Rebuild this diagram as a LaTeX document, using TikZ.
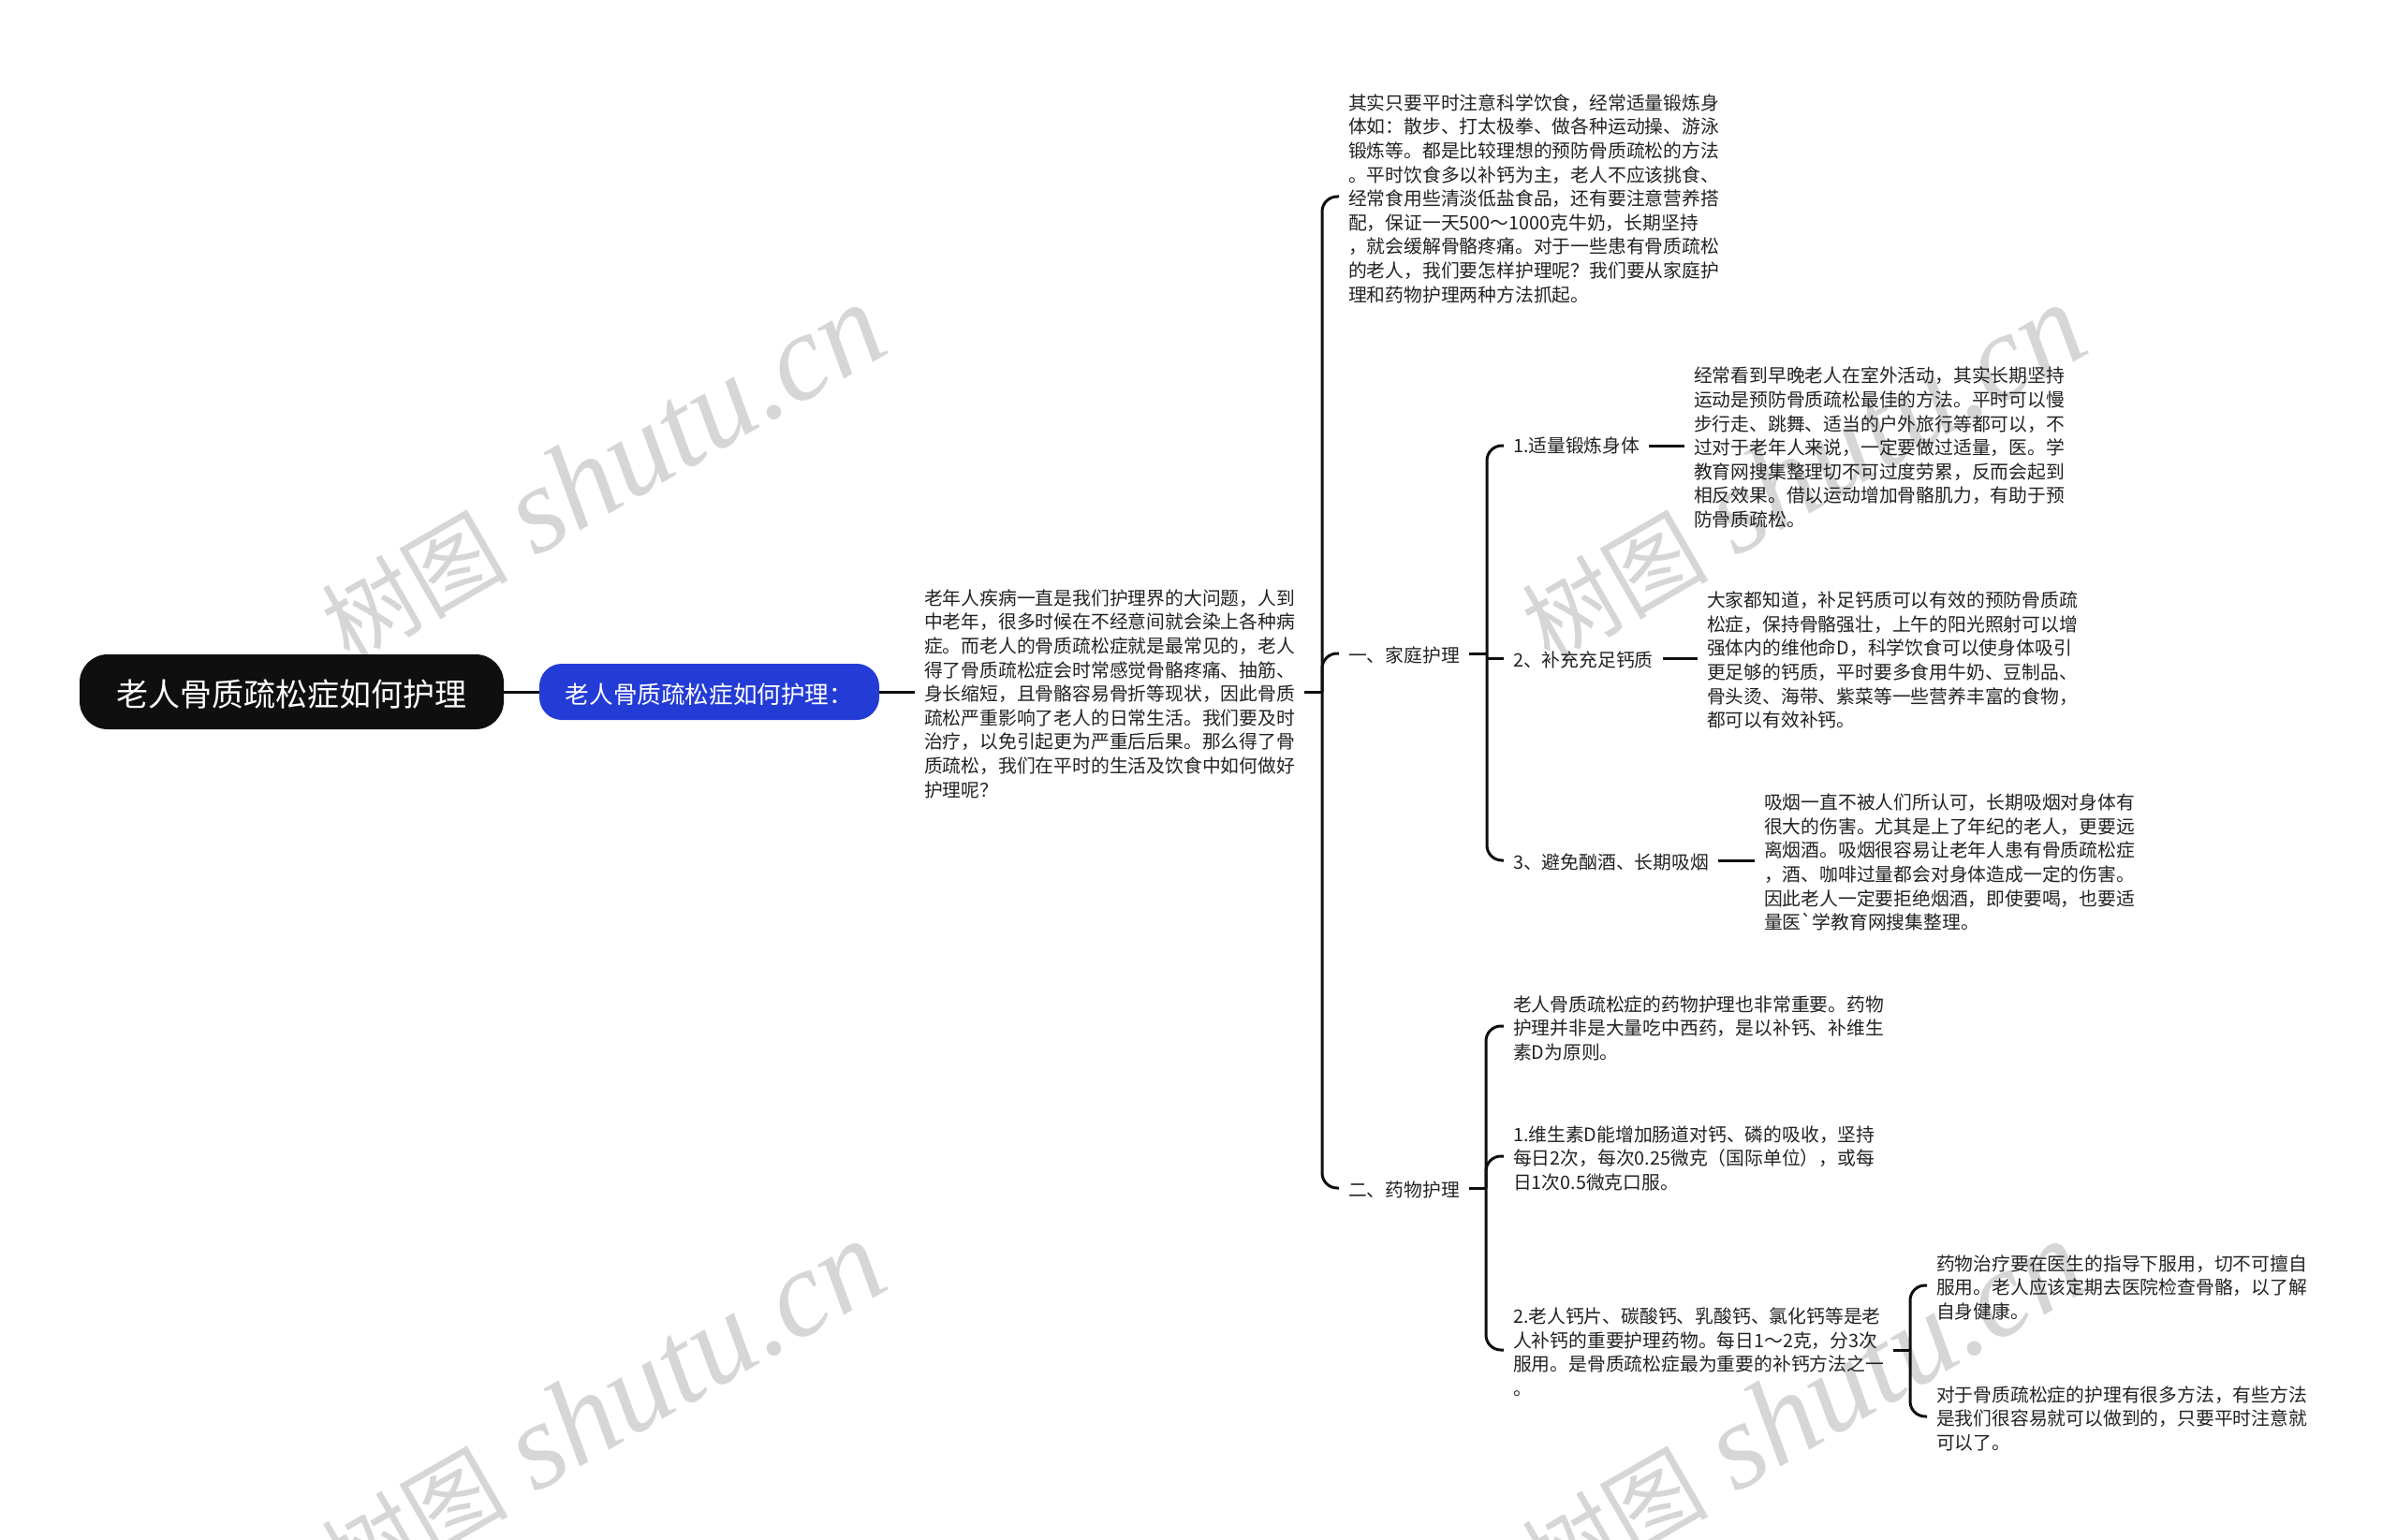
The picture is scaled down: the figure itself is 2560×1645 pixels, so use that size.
\documentclass[tikz,border=0pt]{standalone}
\usepackage{fontspec}
\setmainfont{Noto Sans CJK SC}
\newfontfamily\markfont{Liberation Serif}
\usetikzlibrary{arrows,shapes,positioning}
\usepackage{xcolor}
\definecolor{mapblack}{RGB}{15,15,15}
\definecolor{mapblue}{RGB}{36,60,214}
\definecolor{mapink}{RGB}{34,34,34}
\definecolor{mapmark}{RGB}{214,214,214}
\newcommand{\bodyfont}{\fontsize{19.8}{25.6}\selectfont}
\newcommand{\lift}{\rule{0pt}{21pt}}
\tikzstyle{link} = [line width=3pt,color=mapblack]
\tikzstyle{bracket} = [link,rounded corners=16pt]
\tikzstyle{para} = [anchor=west,align=left,inner xsep=10pt,inner ysep=0pt,outer sep=0pt,text=mapink,font=\bodyfont]
\tikzstyle{pill} = [inner sep=0pt,outer sep=0pt,text=white]
\tikzstyle{wmark} = [anchor=base west,rotate=30,inner sep=0pt,text=mapmark,font=\fontsize{100}{100}\selectfont]

\begin{document}
\begin{tikzpicture}[x=1pt,y=-1pt]
\useasboundingbox (0,0) rectangle (2560,1645);

% Watermarks behind everything
\node[wmark] (markA) at (373,710) {树图\hspace{29pt}{\markfont\itshape\fontsize{131.5}{131.5}\selectfont shutu.cn}};
\node[wmark] (markB) at (1655,710) {树图\hspace{29pt}{\markfont\itshape\fontsize{131.5}{131.5}\selectfont shutu.cn}};
\node[wmark] (markC) at (373,1710) {树图\hspace{29pt}{\markfont\itshape\fontsize{131.5}{131.5}\selectfont shutu.cn}};
\node[wmark] (markD) at (1655,1710) {树图\hspace{29pt}{\markfont\itshape\fontsize{131.5}{131.5}\selectfont shutu.cn}};

% Root and subject
\node[pill,fill=mapblack,rounded corners=30pt,minimum width=453pt,minimum height=80pt,font=\fontsize{34}{40}\selectfont] (root) at (311.5,739) {\rule{0pt}{34.5pt}老人骨质疏松症如何护理};
\node[pill,fill=mapblue,rounded corners=24pt,minimum width=363pt,minimum height=60pt,font=\fontsize{25.6}{30}\selectfont] (subject) at (757.5,739) {\rule{0pt}{27pt}老人骨质疏松症如何护理：};

% Intro text
\node[para] (intro) at (977,739) {\lift 老年人疾病一直是我们护理界的大问题，人到\\中老年，很多时候在不经意间就会染上各种病\\症。而老人的骨质疏松症就是最常见的，老人\\得了骨质疏松症会时常感觉骨骼疼痛、抽筋、\\身长缩短，且骨骼容易骨折等现状，因此骨质\\疏松严重影响了老人的日常生活。我们要及时\\治疗，以免引起更为严重后后果。那么得了骨\\质疏松，我们在平时的生活及饮食中如何做好\\护理呢？};

% First level
\node[para] (advice) at (1430,210) {\lift 其实只要平时注意科学饮食，经常适量锻炼身\\体如：散步、打太极拳、做各种运动操、游泳\\锻炼等。都是比较理想的预防骨质疏松的方法\\。平时饮食多以补钙为主，老人不应该挑食、\\经常食用些清淡低盐食品，还有要注意营养搭\\配，保证一天500～1000克牛奶，长期坚持\\，就会缓解骨骼疼痛。对于一些患有骨质疏松\\的老人，我们要怎样护理呢？我们要从家庭护\\理和药物护理两种方法抓起。};
\node[para] (home) at (1430,698) {\lift 一、家庭护理};
\node[para] (drug) at (1430,1269) {\lift 二、药物护理};

% Home care
\node[para] (stepA) at (1606,476) {1.适量锻炼身体};
\node[para] (stepB) at (1606,703) {\lift 2、补充充足钙质};
\node[para] (stepC) at (1606,919) {\lift 3、避免酗酒、长期吸烟};
\node[para] (tipA) at (1799,476) {\lift 经常看到早晚老人在室外活动，其实长期坚持\\运动是预防骨质疏松最佳的方法。平时可以慢\\步行走、跳舞、适当的户外旅行等都可以，不\\过对于老年人来说，一定要做过适量，医。学\\教育网搜集整理切不可过度劳累，反而会起到\\相反效果。借以运动增加骨骼肌力，有助于预\\防骨质疏松。};
\node[para] (tipB) at (1813,703) {\lift 大家都知道，补足钙质可以有效的预防骨质疏\\松症，保持骨骼强壮，上午的阳光照射可以增\\强体内的维他命D，科学饮食可以使身体吸引\\更足够的钙质，平时要多食用牛奶、豆制品、\\骨头烫、海带、紫菜等一些营养丰富的食物，\\都可以有效补钙。};
\node[para] (tipC) at (1874,919) {\lift 吸烟一直不被人们所认可，长期吸烟对身体有\\很大的伤害。尤其是上了年纪的老人，更要远\\离烟酒。吸烟很容易让老年人患有骨质疏松症\\，酒、咖啡过量都会对身体造成一定的伤害。\\因此老人一定要拒绝烟酒，即使要喝，也要适\\量医\textasciigrave 学教育网搜集整理。};

% Drug care
\node[para] (drugA) at (1606,1096) {\lift 老人骨质疏松症的药物护理也非常重要。药物\\护理并非是大量吃中西药，是以补钙、补维生\\素D为原则。};
\node[para] (drugB) at (1606,1235) {\lift 1.维生素D能增加肠道对钙、磷的吸收，坚持\\每日2次，每次0.25微克（国际单位），或每\\日1次0.5微克口服。};
\node[para] (drugC) at (1606,1442) {\lift 2.老人钙片、碳酸钙、乳酸钙、氯化钙等是老\\人补钙的重要护理药物。每日1～2克，分3次\\服用。是骨质疏松症最为重要的补钙方法之一\\。};
\node[para] (calA) at (2058,1373) {\lift 药物治疗要在医生的指导下服用，切不可擅自\\服用。老人应该定期去医院检查骨骼，以了解\\自身健康。};
\node[para] (calB) at (2058,1513) {\lift 对于骨质疏松症的护理有很多方法，有些方法\\是我们很容易就可以做到的，只要平时注意就\\可以了。};

% Hubs
\coordinate (hubMain) at (1412,739);
\coordinate (hubHome) at (1588,698);
\coordinate (hubDrug) at (1587,1269);
\coordinate (hubCal) at (2040,1442);

% Connectors
\draw[link] (root) -- (subject);
\draw[link] (subject) -- (intro.west);
\draw[link] (intro.east) -- (hubMain);
\draw[bracket] (hubMain) |- (advice.west);
\draw[bracket] (hubMain) |- (home.west);
\draw[bracket] (hubMain) |- (drug.west);

\draw[link] (home.east) -- (hubHome);
\draw[bracket] (hubHome) |- (stepA.west);
\draw[bracket] (hubHome) |- (stepC.west);
\draw[link] (stepB.west -| hubHome) -- (stepB.west);
\draw[link] (stepA.east) -- (tipA.west);
\draw[link] (stepB.east) -- (tipB.west);
\draw[link] (stepC.east) -- (tipC.west);

\draw[link] (drug.east) -- (hubDrug);
\draw[bracket] (hubDrug) |- (drugA.west);
\draw[bracket] (hubDrug) |- (drugB.west);
\draw[bracket] (hubDrug) |- (drugC.west);

\draw[link] (drugC.east) -- (hubCal);
\draw[bracket] (hubCal) |- (calA.west);
\draw[bracket] (hubCal) |- (calB.west);
\end{tikzpicture}
\end{document}
